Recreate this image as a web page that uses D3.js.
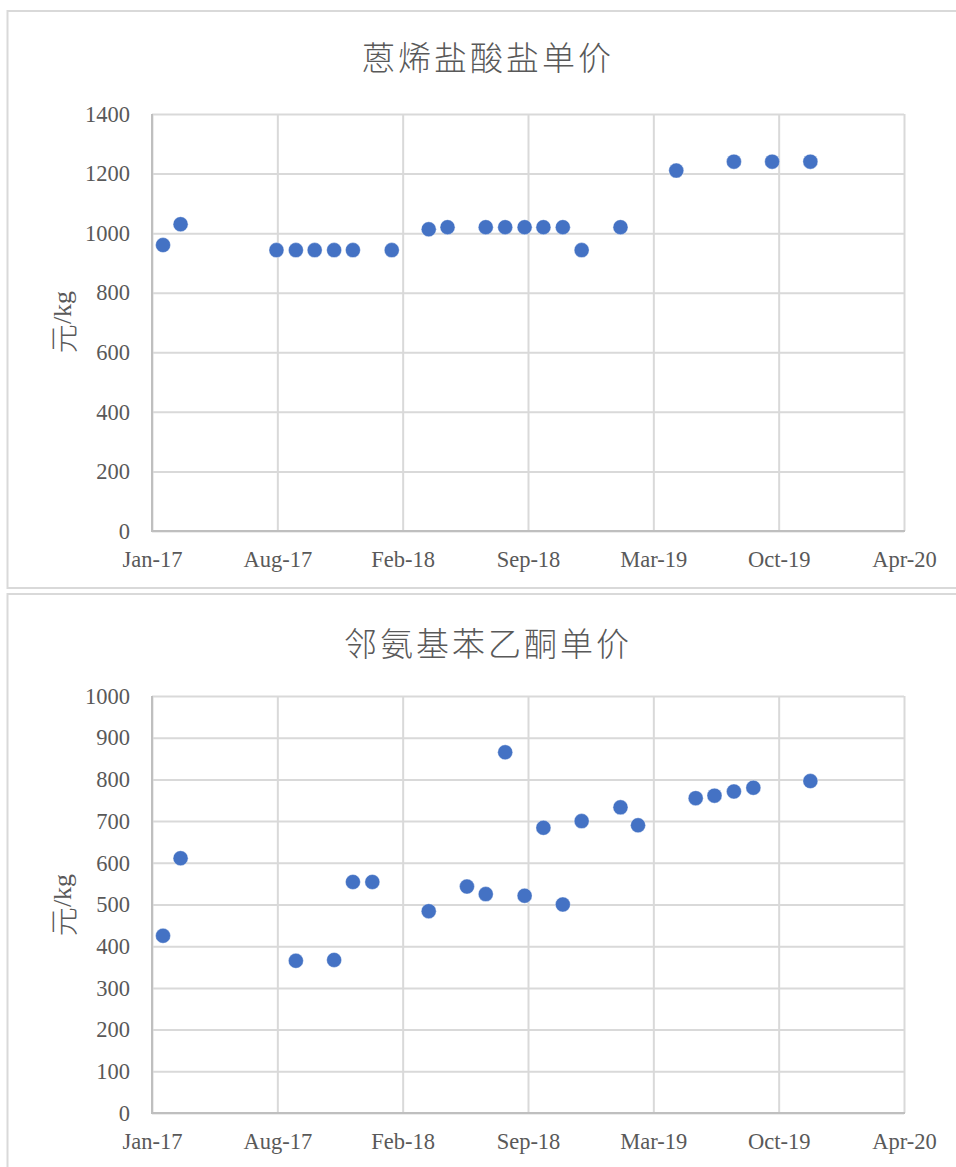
<!DOCTYPE html>
<html>
<head>
<meta charset="utf-8">
<script src="https://cdn.jsdelivr.net/npm/d3@7"></script>
<style>
  html, body { margin: 0; padding: 0; background: #ffffff; }
  svg { display: block; }
</style>
</head>
<body>
<div id="chart"></div>
<script>
// ---------- data ----------
const title1 = "蒽烯盐酸盐单价";
const dates1 = ["2017-01-31","2017-02-28","2017-07-31","2017-08-31","2017-09-30","2017-10-31","2017-11-30","2018-01-31","2018-03-31","2018-04-30","2018-06-30","2018-07-31","2018-08-31","2018-09-30","2018-10-31","2018-11-30","2019-01-31","2019-04-30","2019-07-31","2019-09-30","2019-11-30"];
const values1 = [960,1030,943,943,943,943,943,943,1013,1020,1020,1020,1020,1020,1020,943,1020,1210,1240,1240,1240];
const yTicks1 = [0,200,400,600,800,1000,1200,1400];

const title2 = "邻氨基苯乙酮单价";
const dates2 = ["2017-01-31","2017-02-28","2017-08-31","2017-10-31","2017-11-30","2017-12-31","2018-03-31","2018-05-31","2018-06-30","2018-07-31","2018-08-31","2018-09-30","2018-10-31","2018-11-30","2019-01-31","2019-02-28","2019-05-31","2019-06-30","2019-07-31","2019-08-31","2019-11-30"];
const values2 = [425,611,365,367,554,554,484,543,525,865,521,684,500,700,733,690,755,761,771,780,796];
const yTicks2 = [0,100,200,300,400,500,600,700,800,900,1000];

const xStart = "2017-01-15";
const xEnd = "2020-04-29";
const xTickDates = ["2017-01-15","2017-08-03","2018-02-19","2018-09-07","2019-03-26","2019-10-12","2020-04-29"];
const xTickLabels = ["Jan-17","Aug-17","Feb-18","Sep-18","Mar-19","Oct-19","Apr-20"];
const yAxisTitle = "元/kg";

// ---------- drawing ----------
const W = 956, H = 1167;
const parse = d3.utcParse("%Y-%m-%d");
const svg = d3.select("#chart").append("svg").attr("width", W).attr("height", H);

const textColor = "#595959";
const gridColor = "#d9d9d9";
const axisColor = "#bfbfbf";
const dotColor = "#4472c4";
const latin = "'Liberation Serif','Times New Roman',serif";
const cjk = "'Noto Sans CJK SC','Noto Sans CJK JP',sans-serif";

function panel(cfg) {
  const g = svg.append("g");
  // frame
  g.append("rect")
    .attr("x", 7.5).attr("y", cfg.frameTop)
    .attr("width", 950).attr("height", cfg.frameBottom - cfg.frameTop)
    .attr("fill", "#fff").attr("stroke", "#d9d9d9").attr("stroke-width", 2);

  const x = d3.scaleUtc().domain([parse(xStart), parse(xEnd)]).range([152, 904]);
  const y = d3.scaleLinear().domain([0, cfg.yMax]).range([cfg.yBottom, cfg.yTop]);

  // title
  g.append("text")
    .attr("x", 488).attr("y", cfg.titleY)
    .attr("text-anchor", "middle").attr("dominant-baseline", "central")
    .attr("font-family", cjk).attr("font-size", 33).attr("font-weight", 300).attr("letter-spacing", 3)
    .attr("fill", textColor).text(cfg.title);

  // horizontal gridlines
  const yAxis = d3.axisLeft(y).tickValues(cfg.yTicks).tickSize(-(904 - 152)).tickPadding(22).tickFormat(d3.format("d"));
  const ya = g.append("g").attr("transform", "translate(152,0)").call(yAxis);
  ya.select(".domain").remove();
  ya.selectAll(".tick line").attr("stroke", gridColor).attr("stroke-width", 2);
  ya.selectAll(".tick text")
    .attr("font-family", latin).attr("font-size", 22.5).attr("fill", textColor);

  // vertical gridlines + x labels
  const tickDates = xTickDates.map(parse);
  const xAxis = d3.axisBottom(x).tickValues(tickDates)
    .tickSize(-(cfg.yBottom - cfg.yTop)).tickPadding(20)
    .tickFormat((d, i) => xTickLabels[i]);
  const xa = g.append("g").attr("transform", `translate(0,${cfg.yBottom})`).call(xAxis);
  xa.select(".domain").remove();
  xa.selectAll(".tick line").attr("stroke", gridColor).attr("stroke-width", 2);
  xa.selectAll(".tick text")
    .attr("font-family", latin).attr("font-size", 22.5).attr("fill", textColor);

  // axis lines
  g.append("line").attr("x1", 152).attr("x2", 152).attr("y1", cfg.yTop).attr("y2", cfg.yBottom)
    .attr("stroke", axisColor).attr("stroke-width", 2);
  g.append("line").attr("x1", 151).attr("x2", 905).attr("y1", cfg.yBottom).attr("y2", cfg.yBottom)
    .attr("stroke", axisColor).attr("stroke-width", 2);

  // y axis title
  const t = g.append("text")
    .attr("transform", `translate(62,${cfg.yTitleY}) rotate(-90)`)
    .attr("text-anchor", "middle").attr("dominant-baseline", "central")
    .attr("fill", textColor).attr("font-family", latin).attr("font-size", 26);
  t.append("tspan").attr("font-family", cjk).attr("font-weight", 300).attr("font-size", 29).text(yAxisTitle.slice(0, 1));
  t.append("tspan").text(yAxisTitle.slice(1));

  // dots
  const pts = cfg.dates.map((d, i) => ({ date: parse(d), value: cfg.values[i] }));
  g.append("g").selectAll("circle").data(pts).join("circle")
    .attr("cx", d => x(d.date) + 1).attr("cy", d => y(d.value))
    .attr("r", 7.5).attr("fill", dotColor)
    .attr("stroke", "#ffffff").attr("stroke-opacity", 0.5).attr("stroke-width", 0.75);
}

panel({
  frameTop: 11, frameBottom: 588, title: title1, titleY: 56,
  yTop: 114, yBottom: 531, yMax: 1400, yTicks: yTicks1, yTitleY: 322,
  dates: dates1, values: values1
});
panel({
  frameTop: 594, frameBottom: 1200, title: title2, titleY: 642,
  yTop: 696, yBottom: 1113, yMax: 1000, yTicks: yTicks2, yTitleY: 905,
  dates: dates2, values: values2
});
</script>
</body>
</html>
